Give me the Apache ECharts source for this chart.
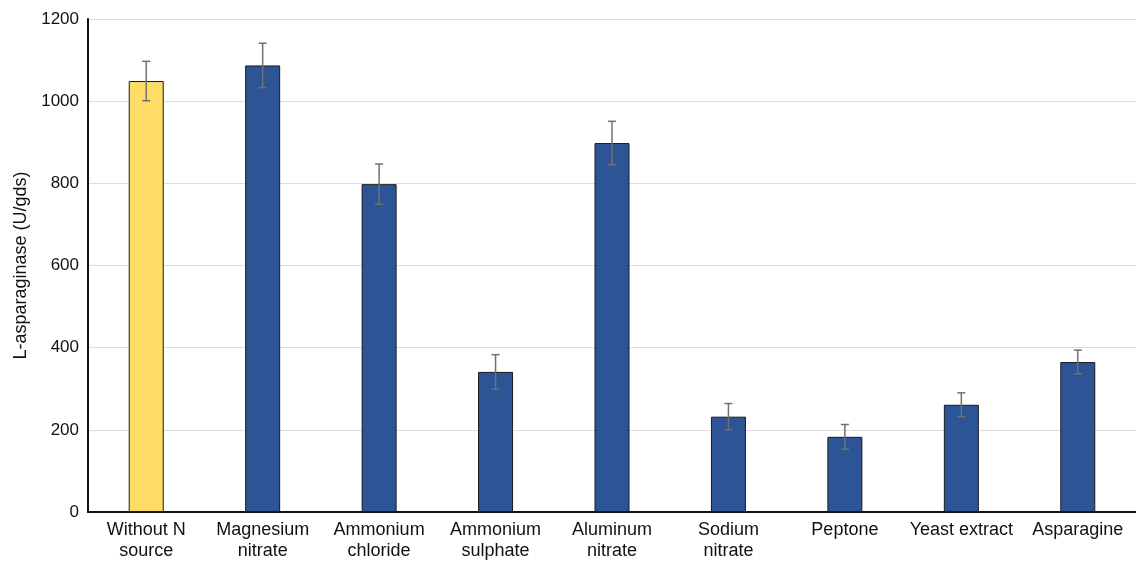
<!DOCTYPE html>
<html>
<head>
<meta charset="utf-8">
<script src="https://cdn.jsdelivr.net/npm/echarts@6/dist/echarts.min.js"></script>
<style>
  html, body { margin: 0; padding: 0; background: #fff; }
  #chart { width: 1136px; height: 564px; }
</style>
</head>
<body>
<div id="chart"></div>
<script>
// Nitrogen sources tested and the resulting L-asparaginase activity
const categories = ['Without N\nsource', 'Magnesium\nnitrate', 'Ammonium\nchloride', 'Ammonium\nsulphate',
  'Aluminum\nnitrate', 'Sodium\nnitrate', 'Peptone', 'Yeast extract', 'Asparagine'];
const activity = [1049, 1087, 798, 341, 898, 232, 183, 261, 365];
const stdError = [48, 54, 49, 42, 53, 32, 30, 29, 29];
const yTicks = [0, 200, 400, 600, 800, 1000, 1200];

const controlColor = '#FFDC66';
const sourceColor = '#2D5596';
const font = 'Liberation Sans, Arial, sans-serif';

const chart = echarts.init(document.getElementById('chart'));

const barData = activity.map((v, i) => ({
  value: v,
  itemStyle: { color: i === 0 ? controlColor : sourceColor }
}));
const errData = activity.map((v, i) => [i, v - stdError[i], v + stdError[i]]);

chart.setOption({
  animation: false,
  grid: { left: 88, right: 0, top: 19, bottom: 52, outerBoundsMode: 'none', containLabel: false },
  xAxis: {
    type: 'category',
    data: categories,
    axisLine: { lineStyle: { color: '#111', width: 2 } },
    axisTick: { show: false },
    axisLabel: {
      color: '#111', fontSize: 18, fontFamily: font,
      lineHeight: 21, margin: 8, interval: 0
    }
  },
  yAxis: {
    type: 'value',
    min: yTicks[0],
    max: yTicks[yTicks.length - 1],
    interval: 200,
    name: 'L-asparaginase (U/gds)',
    nameLocation: 'middle',
    nameGap: 58,
    nameTextStyle: { color: '#111', fontSize: 18, fontFamily: font },
    axisLine: { show: true, lineStyle: { color: '#111', width: 2 } },
    axisTick: { show: false },
    axisLabel: {
      color: '#111', fontSize: 17, fontFamily: font, margin: 9,
      formatter: v => String(v)
    },
    splitLine: { lineStyle: { color: '#dddddd', width: 1 } }
  },
  series: [
    {
      type: 'bar',
      data: barData,
      barWidth: 35,
      itemStyle: { borderColor: '#1a1a1a', borderWidth: 1 },
      z: 2
    },
    {
      type: 'custom',
      data: errData,
      z: 3,
      renderItem: function (params, api) {
        const x = api.value(0);
        const lo = api.coord([x, api.value(1)]);
        const hi = api.coord([x, api.value(2)]);
        const cap = 4;
        const style = { stroke: '#707070', lineWidth: 1.5 };
        return {
          type: 'group',
          children: [
            { type: 'line', shape: { x1: hi[0], y1: hi[1], x2: lo[0], y2: lo[1] }, style: style },
            { type: 'line', shape: { x1: hi[0] - cap, y1: hi[1], x2: hi[0] + cap, y2: hi[1] }, style: style },
            { type: 'line', shape: { x1: lo[0] - cap, y1: lo[1], x2: lo[0] + cap, y2: lo[1] }, style: style }
          ]
        };
      }
    }
  ]
});
</script>
</body>
</html>
